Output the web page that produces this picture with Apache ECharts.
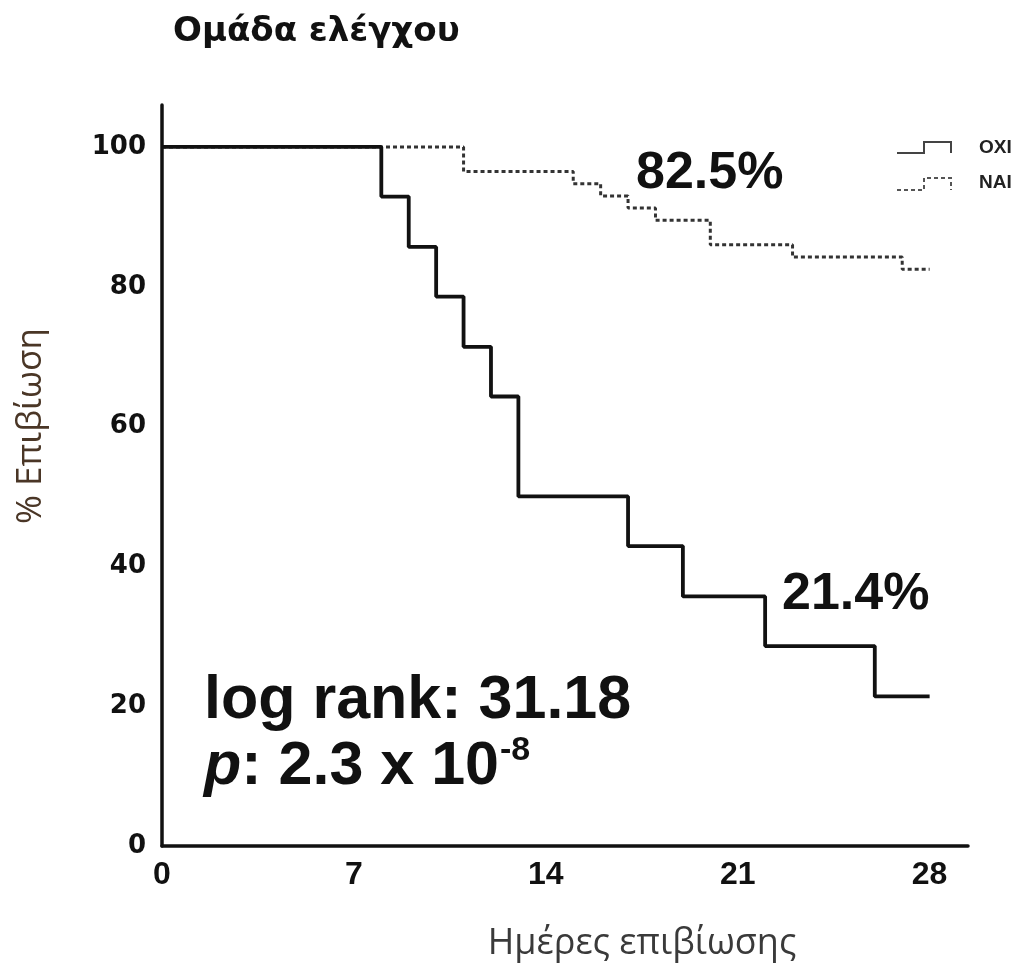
<!DOCTYPE html>
<html>
<head>
<meta charset="utf-8">
<script src="https://cdn.jsdelivr.net/npm/echarts@6/dist/echarts.min.js"></script>
<style>
  html, body { margin: 0; padding: 0; background: #fff; }
  #main { width: 1027px; height: 966px; }
</style>
</head>
<body>
<div id="main"></div>
<script>
// Kaplan–Meier survival, control group
const dayTicks = [0, 7, 14, 21, 28];
const survTicks = [0, 20, 40, 60, 80, 100];

// "ΟΧΙ" group: event days and survival (%) after each event
const oxiDays = [0, 8, 9, 10, 11, 12, 13, 17, 19, 22, 26, 28];
const oxiSurv = [100, 92.9, 85.7, 78.6, 71.4, 64.3, 50, 42.9, 35.7, 28.6, 21.4, 21.4];

// "ΝΑΙ" group
const naiDays = [0, 11, 15, 16, 17, 18, 20, 23, 27, 28];
const naiSurv = [100, 96.5, 94.75, 93, 91.25, 89.5, 86, 84.25, 82.5, 82.5];

const logRank = '31.18';
const pValue = '2.3 x 10';
const pExp = '-8';

const xTitle = 'Ημέρες επιβίωσης';
const yTitle = '% Επιβίωση';

const pairs = (xs, ys) => xs.map((x, i) => [x, ys[i]]);
const pct = arr => arr[arr.length - 1].toFixed(1) + '%';

const chart = echarts.init(document.getElementById('main'));

chart.setOption({
  animation: false,
  backgroundColor: '#fff',
  title: {
    text: 'Ομάδα ελέγχου',
    left: 168,
    top: 10,
    textStyle: { fontFamily: 'DejaVu Sans', fontWeight: 'bold', fontSize: 34, color: '#111' }
  },
  grid: { left: 162, right: 59, top: 105, bottom: 120 },
  xAxis: {
    type: 'value',
    min: 0,
    max: 29.4,
    interval: 7,
    axisLine: { lineStyle: { color: '#111', width: 3.5 } },
    axisTick: { show: false },
    splitLine: { show: false },
    axisLabel: {
      showMaxLabel: false,
      margin: 13,
      fontFamily: 'Liberation Sans',
      fontWeight: 'bold',
      fontSize: 32,
      color: '#111',
      formatter: v => (dayTicks.includes(v) ? String(v) : '')
    }
  },
  yAxis: {
    type: 'value',
    min: 0,
    max: 106,
    interval: 20,
    axisLine: { show: true, lineStyle: { color: '#111', width: 3.5 } },
    axisTick: { show: false },
    splitLine: { show: false },
    axisLabel: {
      showMaxLabel: false,
      margin: 16,
      fontFamily: 'DejaVu Sans',
      fontWeight: 'bold',
      fontSize: 26,
      color: '#111',
      formatter: v => (survTicks.includes(v) ? String(v) : '')
    }
  },
  series: [
    {
      name: 'ΝΑΙ',
      type: 'line',
      step: 'end',
      symbol: 'none',
      data: pairs(naiDays, naiSurv),
      lineStyle: { color: '#333', width: 3, type: [4, 3] },
      z: 2
    },
    {
      name: 'ΟΧΙ',
      type: 'line',
      step: 'end',
      symbol: 'none',
      data: pairs(oxiDays, oxiSurv),
      lineStyle: { color: '#111', width: 3.8 },
      z: 3
    }
  ],
  graphic: [
    // axis titles
    {
      type: 'text', x: 642, y: 944,
      style: { text: xTitle, align: 'center', verticalAlign: 'middle',
               fontFamily: 'Open Sans', fontSize: 36, fill: '#3a3a3a' }
    },
    {
      type: 'text', x: 31, y: 426, rotation: Math.PI / 2,
      style: { text: yTitle, align: 'center', verticalAlign: 'middle',
               fontFamily: 'Open Sans', fontSize: 35, fill: '#4a3626' }
    },
    // legend
    {
      type: 'polyline',
      shape: { points: [[897, 153], [924, 153], [924, 142], [951, 142], [951, 153]] },
      style: { stroke: '#444', lineWidth: 2, fill: null }
    },
    {
      type: 'text', left: 979, top: 138,
      style: { text: 'ΟΧΙ', fontFamily: 'Liberation Sans', fontWeight: 'bold', fontSize: 19, fill: '#222' }
    },
    {
      type: 'polyline',
      shape: { points: [[897, 190], [924, 190], [924, 178], [951, 178], [951, 190]] },
      style: { stroke: '#555', lineWidth: 2, fill: null, lineDash: [4, 3] }
    },
    {
      type: 'text', left: 979, top: 173,
      style: { text: 'ΝΑΙ', fontFamily: 'Liberation Sans', fontWeight: 'bold', fontSize: 19, fill: '#222' }
    },
    // final survival percentages
    {
      type: 'text', left: 636, top: 148,
      style: { text: pct(naiSurv), fontFamily: 'Liberation Sans', fontWeight: 'bold', fontSize: 52, fill: '#111' }
    },
    {
      type: 'text', left: 782, top: 569,
      style: { text: pct(oxiSurv), fontFamily: 'Liberation Sans', fontWeight: 'bold', fontSize: 52, fill: '#111' }
    },
    // test statistics
    {
      type: 'text', left: 204, top: 671,
      style: { text: 'log rank: ' + logRank, fontFamily: 'Liberation Sans', fontWeight: 'bold', fontSize: 61, fill: '#111' }
    },
    {
      type: 'text', left: 204, top: 737,
      style: {
        text: '{i|p}: ' + pValue,
        fontFamily: 'Liberation Sans', fontWeight: 'bold', fontSize: 61, fill: '#111',
        rich: { i: { fontFamily: 'Liberation Sans', fontStyle: 'italic', fontWeight: 'bold', fontSize: 61, fill: '#111' } }
      }
    },
    {
      type: 'text', left: 500, top: 734,
      style: { text: pExp, fontFamily: 'Liberation Sans', fontWeight: 'bold', fontSize: 34, fill: '#111' }
    }
  ]
});
</script>
</body>
</html>
